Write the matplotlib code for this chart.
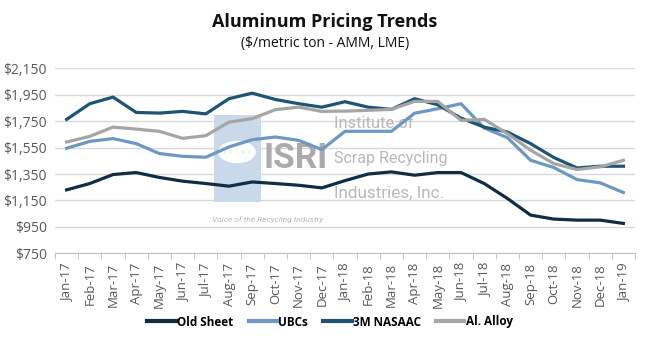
import matplotlib
matplotlib.use("Agg")
import matplotlib.pyplot as plt
from matplotlib.patches import Rectangle, Circle
import numpy as np

months = ["Jan-17", "Feb-17", "Mar-17", "Apr-17", "May-17", "Jun-17", "Jul-17",
          "Aug-17", "Sep-17", "Oct-17", "Nov-17", "Dec-17", "Jan-18", "Feb-18",
          "Mar-18", "Apr-18", "May-18", "Jun-18", "Jul-18", "Aug-18", "Sep-18",
          "Oct-18", "Nov-18", "Dec-18", "Jan-19"]

old_sheet = [1230, 1278, 1346, 1361, 1324, 1296, 1278, 1258, 1290, 1278, 1265,
             1245, 1300, 1350, 1366, 1341, 1361, 1361, 1278, 1165, 1039, 1009,
             1001, 1001, 976]
ubcs = [1545, 1597, 1618, 1580, 1505, 1484, 1477, 1555, 1610, 1630, 1605,
        1535, 1673, 1673, 1673, 1810, 1844, 1882, 1698, 1625, 1454, 1399,
        1308, 1283, 1210]
nasaac = [1763, 1882, 1932, 1816, 1811, 1824, 1805, 1920, 1962, 1914, 1882,
          1856, 1897, 1856, 1839, 1920, 1874, 1773, 1705, 1668, 1580, 1475,
          1396, 1409, 1409]
al_alloy = [1592, 1635, 1705, 1690, 1673, 1620, 1640, 1743, 1769, 1837, 1856,
            1824, 1826, 1832, 1839, 1900, 1899, 1756, 1764, 1656, 1530, 1429,
            1384, 1404, 1454]

series = [("Old Sheet", old_sheet, "#0f2d45"),
          ("UBCs", ubcs, "#6d98c4"),
          ("3M NASAAC", nasaac, "#1d5473"),
          ("Al. Alloy", al_alloy, "#a5a5a5")]

y_ticks = [750, 950, 1150, 1350, 1550, 1750, 1950, 2150]

plt.rcParams["font.family"] = ["Open Sans", "DejaVu Sans"]

fig = plt.figure(figsize=(6.5, 3.41), dpi=100)
ax = fig.add_axes([55 / 650, 1 - 253.3 / 341, 580 / 650, (253.3 - 68.3) / 341])
renderer = fig.canvas.get_renderer()

x = np.arange(len(months))


def fit_width(txt, width_px):
    """Scale a text's font size so its rendered width equals width_px."""
    w = txt.get_window_extent(renderer).width
    txt.set_fontsize(txt.get_fontsize() * width_px / w)


def px(xp, yp):
    return xp / 650, 1 - yp / 341


# watermark, drawn in the axes below the data lines
wm = dict(transform=fig.transFigure, zorder=1)
ax.add_patch(Rectangle(px(214, 202), 47 / 650, 87 / 341,
                       facecolor="#c9d9ea", edgecolor="none", clip_on=False, **wm))
for r, lw in [(16, 4), (10, 3.5), (4, 3)]:
    ax.add_patch(Circle(px(237, 152), r / 650, facecolor="none",
                        edgecolor="white", lw=lw, clip_on=False, **wm))
narrow = dict(family=["Roboto", "DejaVu Sans"], fontstretch="condensed")
t = ax.text(*px(264, 158), "ISRI", fontsize=40, color="#ababab", ha="left",
            va="center", fontweight="bold", **narrow, **wm)
fit_width(t, 64)
for yy, s, w in [(124, "Institute of", 80), (159, "Scrap Recycling", 114),
                 (193, "Industries, Inc.", 111)]:
    t = ax.text(*px(334, yy), s, fontsize=14, color="#b8b8b8", ha="left",
                va="center", **narrow, **wm)
    fit_width(t, w)
t = ax.text(*px(212, 220), "Voice of the Recycling Industry", fontsize=8,
            color="#b8b8b8", style="italic", ha="left", va="center", **narrow, **wm)
fit_width(t, 112)

for name, vals, col in series:
    ax.plot(x, vals, color=col, lw=2.3, label=name, zorder=3, solid_joinstyle="round")

ax.set_xlim(-0.5, len(months) - 0.5)
ax.set_ylim(750, 2150)
ax.set_yticks(y_ticks)
ax.set_yticklabels([f"${v:,}" for v in y_ticks])
ax.yaxis.grid(True, color="#d9d9d9", lw=1)
ax.set_axisbelow(True)

ax.set_xticks(x)
ax.set_xticklabels(months, rotation=90)
ax.set_xticks(np.arange(len(months) + 1) - 0.5, minor=True)
ax.tick_params(axis="x", which="major", length=0, pad=7, labelsize=9.5,
               labelcolor="#595959")
ax.tick_params(axis="x", which="minor", length=4, color="#bfbfbf", direction="out")
ax.tick_params(axis="y", length=0, labelsize=10, labelcolor="#595959", pad=6)

for s in ["top", "right", "left"]:
    ax.spines[s].set_visible(False)
ax.spines["bottom"].set_color("#bfbfbf")

fig.text(0.5, 1 - 22 / 341, "Aluminum Pricing Trends", ha="center", va="center",
         fontsize=13, fontweight="bold", color="#111111")
fig.text(0.5, 1 - 44 / 341, "($/metric ton - AMM, LME)", ha="center", va="center",
         fontsize=10, color="#111111")

leg = fig.legend(loc="center", bbox_to_anchor=(330 / 650, 1 - 322 / 341), ncol=4,
                 frameon=False, handlelength=2.4, columnspacing=1.3,
                 handletextpad=0.1, prop={"weight": "bold", "size": 8.5})
for line in leg.get_lines():
    line.set_linewidth(3)

fig.savefig("out.png", dpi=100)
